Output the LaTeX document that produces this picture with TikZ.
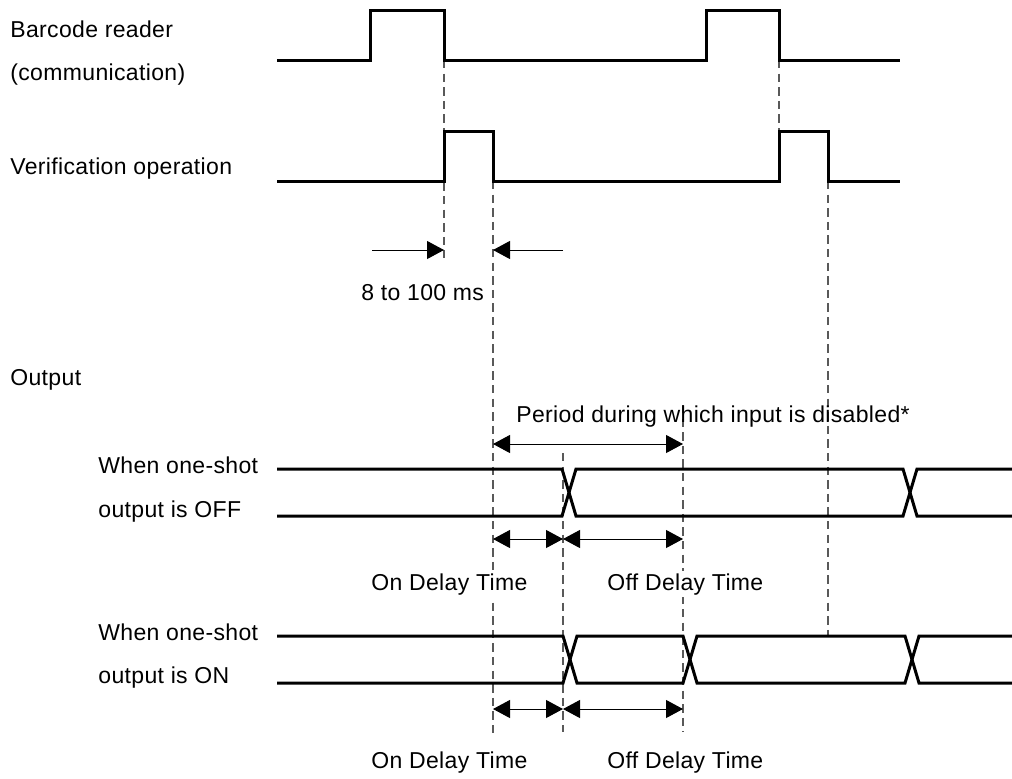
\documentclass[tikz,border=0pt]{standalone}
\usepackage{fontspec}
\setmainfont[LetterSpace=1.5]{Liberation Sans}
\usetikzlibrary{arrows.meta}

\begin{document}
\begin{tikzpicture}[x=0.5pt,y=-0.5pt, every node/.style={font=\fontsize{11.5}{13}\selectfont},
  sig/.style={line width=1.5pt}, guide/.style={gray!70!black,line width=0.7pt,dash pattern=on 4.2pt off 2.6pt},
  dim/.style={{Triangle[length=8.5pt,width=9pt]}-{Triangle[length=8.5pt,width=9pt]},line width=0.5pt},
  lbl/.style={anchor=base west,inner sep=0pt}, gap/.style={lbl,fill=white,inner sep=1pt}]
\useasboundingbox (0,0) rectangle (1012,778);
% time marks
\coordinate (rd1) at (444,60); \coordinate (rd2) at (779,60);
\coordinate (vf1) at (493,181); \coordinate (vf2) at (828,181);
\coordinate (chg) at (563,453); \coordinate (dly) at (683,405);
% guides
\draw[guide] (rd1) -- (rd1 |- 0,258);
\draw[guide] (rd2) -- (rd2 |- 0,131);
\draw[guide] (vf1) -- (vf1 |- 0,733);
\draw[guide] (vf2) -- (vf2 |- 0,636);
\draw[guide] (chg) -- (chg |- 0,732);
\draw[guide] (dly) -- (dly |- 0,732);
% signals
\draw[sig] (277,60) -| (370,10) -| (444,60) -| (706,10) -| (779,60) -- (900,60);
\draw[sig] (277,181) -| (444,131) -| (493,181) -| (779,131) -| (828,181) -- (900,181);
\draw[sig] (277,469) -- (562,469) -- (576,516) -- (903,516) -- (917,469) -- (1012,469);
\draw[sig] (277,516) -- (562,516) -- (576,469) -- (903,469) -- (917,516) -- (1012,516);
\draw[sig] (277,636) -- (563,636) -- (577,683) -- (683,683) -- (697,636) -- (905,636) -- (919,683) -- (1012,683);
\draw[sig] (277,683) -- (563,683) -- (577,636) -- (683,636) -- (697,683) -- (905,683) -- (919,636) -- (1012,636);
% labels
\node[lbl] (bcr) at (10,37) {Barcode reader};
\node[lbl] (com) at (10,80) {(communication)};
\node[lbl] (ver) at (10,174) {Verification operation};
\node[lbl] (out) at (10,385) {Output};
\node[lbl] (off1) at (98,473) {When one-shot};
\node[lbl] (off2) at (98,517) {output is OFF};
\node[lbl] (on1) at (98,640) {When one-shot};
\node[lbl] (on2) at (98,683) {output is ON};
\node[lbl] (ms) at (361,300) {8 to 100 ms};
\node[lbl] (per) at (516,422) {Period during which input is disabled*};
\node[gap] (onA) at (369,590) {On Delay Time};
\node[gap] (offA) at (605,590) {Off Delay Time};
\node[lbl] (onB) at (371,768) {On Delay Time};
\node[lbl] (offB) at (607,768) {Off Delay Time};
% dimensions
\coordinate (msL) at (372,250); \coordinate (msR) at (563,250);
\draw[dim,-{Triangle[length=8.5pt,width=9pt]}] (msL) -- (rd1 |- msL);
\draw[dim,-{Triangle[length=8.5pt,width=9pt]}] (msR) -- (vf1 |- msR);
\draw[dim] (vf1 |- 0,444) -- (dly |- 0,444);
\foreach \y in {539,709} {
  \draw[dim] (vf1 |- 0,\y) -- (chg |- 0,\y);
  \draw[dim] (chg |- 0,\y) -- (dly |- 0,\y);
}
\end{tikzpicture}
\end{document}
